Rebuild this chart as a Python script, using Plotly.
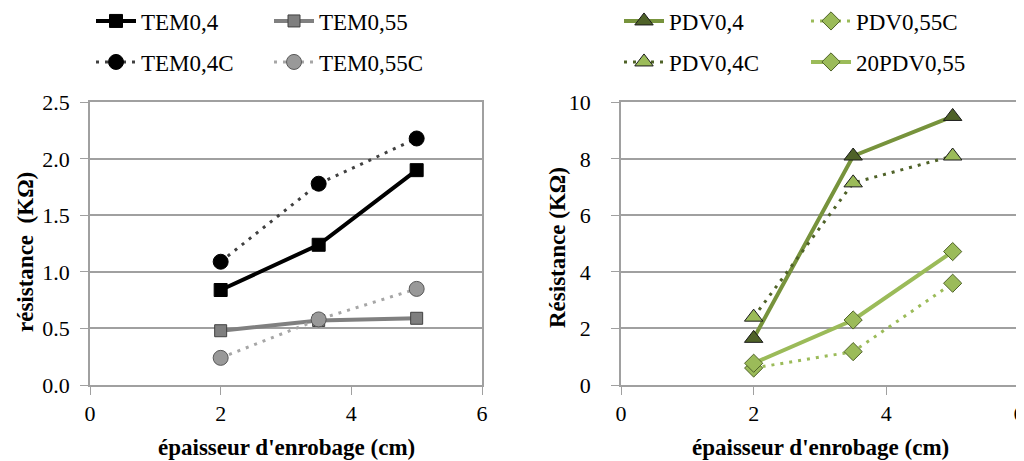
import plotly.graph_objects as go

x_cm = [2, 3.5, 5]

# Left chart (KΩ)
tem04 = [0.84, 1.24, 1.90]
tem055 = [0.48, 0.57, 0.59]
tem04c = [1.09, 1.78, 2.18]
tem055c = [0.24, 0.58, 0.85]

# Right chart (KΩ)
pdv04 = [1.65, 8.1, 9.5]
pdv04c = [2.4, 7.15, 8.1]
pdv055c = [0.6, 1.18, 3.6]
pdv20_055 = [0.77, 2.3, 4.72]

x_ticks = [0, 2, 4, 6]
left_yticks = [0.0, 0.5, 1.0, 1.5, 2.0, 2.5]
right_yticks = [0, 2, 4, 6, 8, 10]

SERIF = "Liberation Serif"
OFF = 8  # page body margin offset
W, H = 1024 - OFF, 461 - OFF


def px(x):
    return (x - OFF) / W


def py(y):
    return 1 - (y - OFF) / H


fig = go.Figure()


def add(xv, yv, name, xa, ya, lcolor, lwidth, dash, symbol, msize, mfill, mline, legend):
    fig.add_trace(go.Scatter(
        x=xv, y=yv, name=name, xaxis=xa, yaxis=ya, mode="lines+markers",
        line=dict(color=lcolor, width=lwidth, dash=dash),
        marker=dict(symbol=symbol, size=msize, color=mfill, line=dict(color=mline, width=1)),
        legend=legend, showlegend=True))


DOT = "3px,6px"
add(x_cm, tem04, "TEM0,4", "x", "y", "#000000", 4, "solid", "square", 13, "#000000", "#000000", "legend")
add(x_cm, tem055, "TEM0,55", "x", "y", "#808080", 4, "solid", "square", 12, "#7f7f7f", "#404040", "legend")
add(x_cm, tem04c, "TEM0,4C", "x", "y", "#404040", 3, DOT, "circle", 15, "#000000", "#000000", "legend2")
add(x_cm, tem055c, "TEM0,55C", "x", "y", "#a6a6a6", 3, DOT, "circle", 15, "#999999", "#595959", "legend2")

add(x_cm, pdv04, "PDV0,4", "x2", "y2", "#77933c", 4, "solid", "triangle-up", 16, "#4f6228", "#1a1a1a", "legend3")
add(x_cm, pdv055c, "PDV0,55C", "x2", "y2", "#9bbb59", 3, DOT, "diamond", 14, "#9bbb59", "#4f6228", "legend3")
add(x_cm, pdv04c, "PDV0,4C", "x2", "y2", "#4f6228", 3, DOT, "triangle-up", 16, "#9bbb59", "#1a1a1a", "legend4")
add(x_cm, pdv20_055, "20PDV0,55", "x2", "y2", "#9bbb59", 4, "solid", "diamond", 14, "#9bbb59", "#4f6228", "legend4")

ydom = [py(385), py(102.3)]
axis_common = dict(showline=True, linecolor="#a0a0a0", linewidth=1.5, mirror=True,
                   ticks="outside", ticklen=8, tickcolor="#a0a0a0", zeroline=False,
                   automargin=False, ticklabeloverflow="allow",
                   tickfont=dict(family=SERIF, size=22, color="#000000"))

fig.update_layout(
    width=W, height=H, margin=dict(l=0, r=0, t=0, b=0, autoexpand=False),
    paper_bgcolor="white", plot_bgcolor="white",
    font=dict(family=SERIF, color="#000000"),
    xaxis=dict(domain=[px(90), px(482)], range=[0, 6], tickvals=x_ticks, showgrid=False,
               ticklabelstandoff=0, anchor="y", **axis_common),
    yaxis=dict(domain=ydom, range=[0, 2.5], tickvals=left_yticks, tickformat=".1f",
               showgrid=True, gridcolor="#a0a0a0", gridwidth=1.5,
               ticklabelstandoff=6, anchor="x", **axis_common),
    xaxis2=dict(domain=[px(621), px(1019)], range=[0, 6], tickvals=x_ticks, showgrid=False,
                ticklabelstandoff=0, anchor="y2", **axis_common),
    yaxis2=dict(domain=ydom, range=[0, 10], tickvals=right_yticks,
                showgrid=True, gridcolor="#a0a0a0", gridwidth=1.5,
                ticklabelstandoff=16, anchor="x2", **axis_common),
)

# Axis titles as annotations
title_font = dict(family=SERIF, size=23, color="#000000")
fig.add_annotation(text="<b>épaisseur d'enrobage (cm)</b>", x=px(286), y=py(447), xref="paper", yref="paper",
                   showarrow=False, xanchor="center", yanchor="middle", font=title_font)
fig.add_annotation(text="<b>épaisseur d'enrobage (cm)</b>", x=px(820), y=py(447), xref="paper", yref="paper",
                   showarrow=False, xanchor="center", yanchor="middle", font=title_font)
fig.add_annotation(text="<b>résistance  (KΩ)</b>", x=px(25), y=py(252), xref="paper", yref="paper",
                   showarrow=False, xanchor="center", yanchor="middle", textangle=-90, font=title_font)
fig.add_annotation(text="<b>Résistance (KΩ)</b>", x=px(557), y=py(248), xref="paper", yref="paper",
                   showarrow=False, xanchor="center", yanchor="middle", textangle=-90, font=title_font)

leg_common = dict(orientation="h", font=dict(family=SERIF, size=23, color="#000000"),
                  bgcolor="rgba(0,0,0,0)", entrywidthmode="pixels",
                  xanchor="left", yanchor="middle", itemwidth=40)
fig.update_layout(
    legend=dict(x=px(91), y=py(21), entrywidth=123, **leg_common),
    legend2=dict(x=px(91), y=py(62), entrywidth=123, **leg_common),
    legend3=dict(x=px(619), y=py(21), entrywidth=132, **leg_common),
    legend4=dict(x=px(619), y=py(62), entrywidth=132, **leg_common),
)

fig.write_html("out.html")
